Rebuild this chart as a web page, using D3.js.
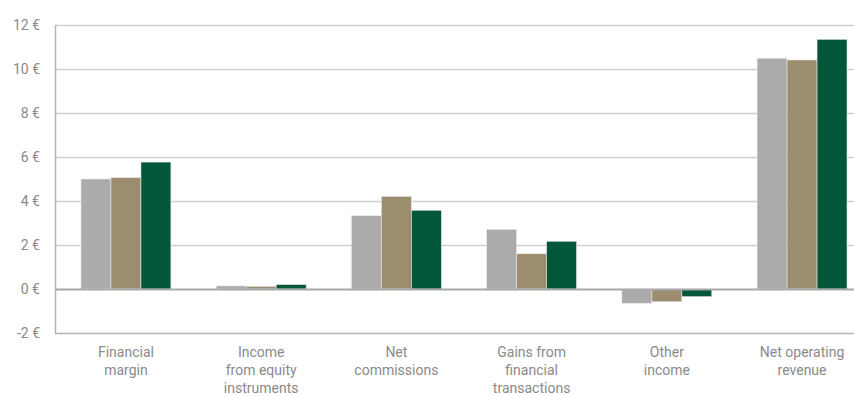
<!DOCTYPE html>
<html>
<head>
<meta charset="utf-8">
<script src="https://cdn.jsdelivr.net/npm/d3@7"></script>
<style>
  body { margin: 0; background: #fff; }
  svg text { font-family: 'Liberation Sans Narrow', 'Roboto', sans-serif; fill: #8a8a8a; }
</style>
</head>
<body>
<div class="canvas"></div>
<script>
// data
const categories = [
  ['Financial', 'margin'],
  ['Income', 'from equity', 'instruments'],
  ['Net', 'commissions'],
  ['Gains from', 'financial', 'transactions'],
  ['Other', 'income'],
  ['Net operating', 'revenue']
];
const series1 = [5.0, 0.14, 3.33, 2.71, -0.65, 10.49];
const series2 = [5.06, 0.12, 4.21, 1.6, -0.58, 10.41];
const series3 = [5.77, 0.2, 3.58, 2.17, -0.35, 11.35];
const yTicks = [-2, 0, 2, 4, 6, 8, 10, 12];

const colors = ['#ababab', '#9c8d6e', '#02573a'];
const allSeries = [series1, series2, series3];

const dims = { width: 854, height: 396, left: 55, top: 25, bottom: 333 };

const svg = d3.select('.canvas').append('svg')
  .attr('width', dims.width)
  .attr('height', dims.height);

const y = d3.scaleLinear().domain([-2, 12]).range([dims.bottom, dims.top]);
const x = d3.scaleBand()
  .domain(d3.range(categories.length))
  .range([58, 870])
  .paddingInner(0.335)
  .paddingOuter(0.17);
const xs = d3.scaleBand().domain([0, 1, 2]).range([0, x.bandwidth()]);

// grid
svg.append('g').selectAll('line')
  .data(yTicks)
  .enter().append('line')
  .attr('x1', dims.left).attr('x2', dims.width)
  .attr('y1', d => y(d) + 0.5).attr('y2', d => y(d) + 0.5)
  .attr('stroke', d => d === -2 ? '#b5b5b5' : '#cfcfcf')
  .attr('stroke-width', d => d === 0 ? 0 : 1.5);

// y axis labels
svg.append('g').selectAll('text')
  .data(yTicks)
  .enter().append('text')
  .attr('x', 40)
  .attr('y', d => y(d) + 5)
  .attr('text-anchor', 'end')
  .attr('font-size', 14)
  .text(d => d + ' €');

// bars
const groups = svg.append('g').selectAll('g')
  .data(categories.map((c, i) => i))
  .enter().append('g')
  .attr('transform', i => `translate(${x(i)},0)`);

groups.selectAll('rect')
  .data(i => allSeries.map((s, k) => ({ k, v: s[i] })))
  .enter().append('rect')
  .attr('x', d => xs(d.k))
  .attr('width', xs.bandwidth())
  .attr('y', d => y(Math.max(0, d.v)))
  .attr('height', d => Math.abs(y(d.v) - y(0)))
  .attr('fill', d => colors[d.k])
  .attr('stroke', '#e8e8e8')
  .attr('stroke-width', 0.6);

// zero line
svg.append('line')
  .attr('x1', dims.left).attr('x2', dims.width)
  .attr('y1', y(0) + 0.5).attr('y2', y(0) + 0.5)
  .attr('stroke', '#a8a8a8')
  .attr('stroke-width', 2);

// left axis line
svg.append('line')
  .attr('x1', dims.left + 0.5).attr('x2', dims.left + 0.5)
  .attr('y1', dims.top).attr('y2', dims.bottom + 1)
  .attr('stroke', '#b5b5b5')
  .attr('stroke-width', 1.5);

// category labels
const labels = svg.append('g').selectAll('text')
  .data(categories)
  .enter().append('text')
  .attr('x', (d, i) => x(i) + x.bandwidth() / 2)
  .attr('y', 357)
  .attr('text-anchor', 'middle')
  .attr('font-size', 14);
labels.selectAll('tspan')
  .data(d => d)
  .enter().append('tspan')
  .attr('x', function () { return this.parentNode.getAttribute('x'); })
  .attr('dy', (d, j) => j === 0 ? 0 : 18)
  .text(d => d);
</script>
</body>
</html>
